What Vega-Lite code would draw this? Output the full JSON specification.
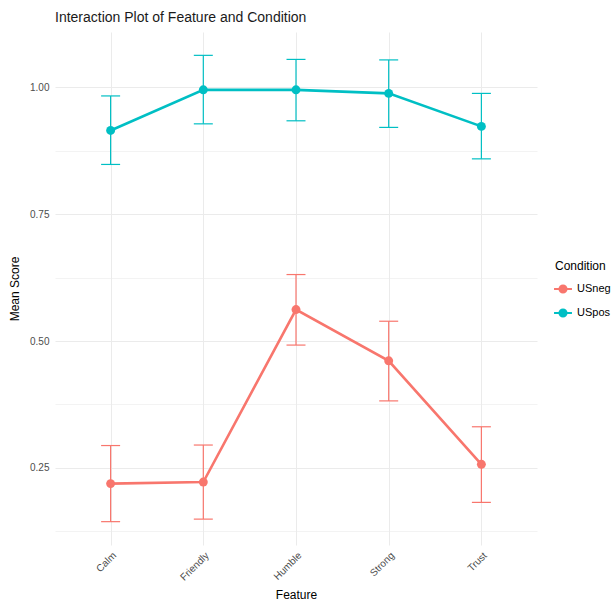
{
  "$schema": "https://vega.github.io/schema/vega-lite/v6.json",
  "width": 482,
  "height": 513,
  "autosize": {"type": "none"},
  "padding": {"left": 55, "top": 32, "right": 74, "bottom": 58},
  "background": "white",
  "title": {"text": "Interaction Plot of Feature and Condition", "anchor": "start", "frame": "group", "fontSize": 14, "fontWeight": "normal", "font": "Liberation Sans", "color": "#1a1a1a", "offset": 7},
  "config": {
    "view": {"stroke": null},
    "font": "Liberation Sans",
    "axis": {"domain": false, "ticks": false, "gridColor": "#EBEBEB", "labelColor": "#4D4D4D", "labelFontSize": 10, "titleFontSize": 12, "titleFontWeight": "normal", "titleColor": "#000000", "labelFont": "Liberation Sans", "titleFont": "Liberation Sans"},
    "legend": {"titleFontSize": 12, "titleFontWeight": "normal", "labelFontSize": 11, "titleColor": "#000000", "labelColor": "#000000", "titleFont": "Liberation Sans", "labelFont": "Liberation Sans"}
  },
  "data": {"values": [
    {"feature": "Calm", "condition": "USneg", "mean": 0.219, "lower": 0.144, "upper": 0.294},
    {"feature": "Friendly", "condition": "USneg", "mean": 0.222, "lower": 0.149, "upper": 0.295},
    {"feature": "Humble", "condition": "USneg", "mean": 0.562, "lower": 0.492, "upper": 0.631},
    {"feature": "Strong", "condition": "USneg", "mean": 0.461, "lower": 0.382, "upper": 0.539},
    {"feature": "Trust", "condition": "USneg", "mean": 0.257, "lower": 0.182, "upper": 0.331},
    {"feature": "Calm", "condition": "USpos", "mean": 0.915, "lower": 0.848, "upper": 0.983},
    {"feature": "Friendly", "condition": "USpos", "mean": 0.995, "lower": 0.928, "upper": 1.063},
    {"feature": "Humble", "condition": "USpos", "mean": 0.995, "lower": 0.934, "upper": 1.055},
    {"feature": "Strong", "condition": "USpos", "mean": 0.988, "lower": 0.921, "upper": 1.054},
    {"feature": "Trust", "condition": "USpos", "mean": 0.923, "lower": 0.859, "upper": 0.988}
  ]},
  "encoding": {
    "x": {"field": "feature", "type": "nominal", "title": "Feature",
      "scale": {"type": "point", "padding": 0.6},
      "axis": {"labelAngle": -45, "labelPadding": 5, "titlePadding": 7, "grid": true}},
    "color": {"field": "condition", "type": "nominal", "title": "Condition",
      "scale": {"domain": ["USneg", "USpos"], "range": ["#F8766D", "#00BFC4"]},
      "legend": {"orient": "none", "legendX": 500, "legendY": 229, "symbolType": "M-1.3,0L1.3,0M-0.5,0A0.5,0.5,0,1,1,0.5,0A0.5,0.5,0,1,1,-0.5,0", "symbolSize": 190, "symbolStrokeWidth": 2.2, "rowPadding": 8, "titlePadding": 8, "labelOffset": 6}}
  },
  "layer": [
    {"mark": {"type": "line", "strokeWidth": 2.6},
     "encoding": {"y": {"field": "mean", "type": "quantitative", "title": "Mean Score",
        "scale": {"domain": [0.098, 1.109], "nice": false, "zero": false},
        "axis": {"values": [0.125, 0.25, 0.375, 0.5, 0.625, 0.75, 0.875, 1.0], "labelExpr": "(datum.value * 4) % 1 == 0 ? format(datum.value, '.2f') : ''", "gridWidth": {"condition": {"test": "(datum.value * 4) % 1 == 0", "value": 1}, "value": 0.6}, "labelPadding": 6, "titlePadding": 8}}}},
    {"mark": {"type": "rule", "strokeWidth": 1.2},
     "encoding": {"y": {"field": "lower", "type": "quantitative"}, "y2": {"field": "upper"}}},
    {"mark": {"type": "tick", "thickness": 1.2, "size": 19, "opacity": 1},
     "encoding": {"y": {"field": "lower", "type": "quantitative"}}},
    {"mark": {"type": "tick", "thickness": 1.2, "size": 19, "opacity": 1},
     "encoding": {"y": {"field": "upper", "type": "quantitative"}}},
    {"mark": {"type": "point", "filled": true, "size": 80, "opacity": 1},
     "encoding": {"y": {"field": "mean", "type": "quantitative"}}}
  ]
}
